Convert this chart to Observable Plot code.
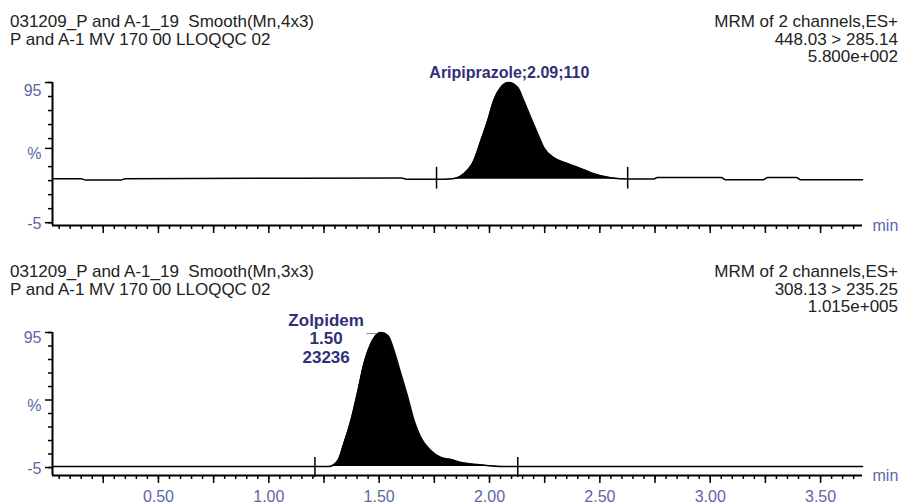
<!DOCTYPE html>
<html><head><meta charset="utf-8">
<script src="https://cdn.jsdelivr.net/npm/d3@7"></script>
<script src="https://cdn.jsdelivr.net/npm/@observablehq/plot@0.6"></script>
<style>
body{margin:0;background:#fff;}
#wrap{position:relative;width:905px;height:504px;font-family:"Liberation Sans",Arial,sans-serif;overflow:hidden;}
#wrap svg{display:block;}
.hdr{position:absolute;font-size:17px;color:#222;line-height:17.5px;white-space:pre;}
.hdr.r{text-align:right;}
</style></head><body><div id="wrap"></div>
<script>
// ---------- data ----------
const xDomain = [0.02, 3.69];
const xLabelTicks = [0.5, 1.0, 1.5, 2.0, 2.5, 3.0, 3.5];
const yTickLabels = ["95", "%", "-5"];
const topYTickValues = [95, 48, -5];
const botYTickValues = [95, 45, -5];

const topHeaderLeft = ["031209_P and A-1_19  Smooth(Mn,4x3)", "P and A-1 MV 170 00 LLOQQC 02"];
const topHeaderRight = ["MRM of 2 channels,ES+", "448.03 > 285.14", "5.800e+002"];
const botHeaderLeft = ["031209_P and A-1_19  Smooth(Mn,3x3)", "P and A-1 MV 170 00 LLOQQC 02"];
const botHeaderRight = ["MRM of 2 channels,ES+", "308.13 > 235.25", "1.015e+005"];

// Aripiprazole trace (time in min, % intensity)
const topTime = [0.02, 0.15, 0.17, 0.33, 0.35, 1.60, 1.63, 1.76, 1.832, 1.884, 1.929, 1.961, 1.992, 2.019, 2.051, 2.087, 2.128, 2.155, 2.187, 2.218, 2.246, 2.291, 2.355, 2.414, 2.472, 2.549, 2.626, 2.745, 2.76, 3.05, 3.07, 3.24, 3.26, 3.39, 3.41, 3.69];
const topPct  = [26.4, 26.4, 25.4, 25.4, 26.4, 26.8, 26.0, 26.0, 26.4, 30.0, 39.3, 53.6, 67.9, 82.1, 91.4, 95.0, 91.4, 82.1, 70.0, 58.6, 48.6, 41.4, 37.1, 33.6, 30.0, 27.1, 26.2, 26.2, 27.2, 27.2, 25.6, 25.6, 27.2, 27.2, 25.6, 25.6];
const topLimits = [1.76, 2.626];
const topBase = 26.0;
const topPeak = {name: "Aripiprazole", rt: 2.09, area: 110};

// Zolpidem trace
const botTime = [0.02, 1.209, 1.272, 1.313, 1.340, 1.372, 1.404, 1.431, 1.463, 1.495, 1.508, 1.540, 1.567, 1.598, 1.630, 1.658, 1.689, 1.734, 1.780, 1.825, 1.871, 1.947, 2.065, 2.128, 3.69];
const botPct  = [-4.3, -4.3, -4.3, 0.2, 12.8, 29.8, 52.0, 72.0, 86.9, 94.3, 95.0, 92.8, 81.7, 64.6, 46.9, 29.8, 17.2, 7.6, 2.4, 0.9, -1.3, -2.8, -4.3, -4.3, -4.3];
const botLimits = [1.209, 2.128];
const botBase = -4.3;
const botPeak = {name: "Zolpidem", rt: 1.50, area: 23236};

// ---------- drawing ----------
const axisColor = "#5d66a6";
const labelColor = "#30307a";
const font = "'Liberation Sans', Arial, sans-serif";
const minorX = d3.range(1, 74).map(i => +(i * 0.05).toFixed(2));
const quarterX = d3.range(1, 15).map(i => i * 0.25);

function panel(cfg) {
  const data = cfg.time.map((t, i) => ({t, v: cfg.pct[i]}));
  const fill = data.filter(d => d.t >= cfg.limits[0] && d.t <= cfg.limits[1]);
  const peakV = d3.max(data, d => d.v);
  const minorY = d3.range(-5, 96, 10).filter(v => Math.abs(v - cfg.yTicks[1]) > 6);
  const yLab = cfg.yTicks.map((v, i) => ({v, label: yTickLabels[i]}));
  const yDy = cfg.yDy;
  const marks = [
    Plot.areaY(fill, {x: "t", y1: cfg.base, y2: "v", fill: "black", curve: "monotone-x"}),
    Plot.lineY(data, {x: "t", y: "v", stroke: "black", strokeWidth: 1.5, curve: "monotone-x"}),
    Plot.ruleX(cfg.limits, {y1: cfg.base - cfg.mLo, y2: cfg.base + cfg.mHi, stroke: "black", strokeWidth: 1.5}),
    Plot.ruleX([xDomain[0]], {stroke: "black", strokeWidth: 2}),
    Plot.ruleY([cfg.yDomain[0]], {stroke: "black", strokeWidth: 2}),
    Plot.axisY({ticks: minorY, tickSize: 4, tickFormat: () => "", label: null, strokeWidth: 1.5}),
    Plot.axisY({ticks: cfg.yTicks, tickSize: 7, tickFormat: () => "", label: null, strokeWidth: 1.5}),
    ...yLab.map((d, i) => Plot.text([d], {y: "v", text: "label", frameAnchor: "left", textAnchor: "end", dx: -11, dy: yDy[i], fill: axisColor, fontSize: 16})),
    Plot.axisX({ticks: minorX, tickSize: 4, tickFormat: () => "", label: null, strokeWidth: 1.5}),
    Plot.axisX({ticks: quarterX, tickSize: 8, tickFormat: () => "", label: null, strokeWidth: 1.5}),
    Plot.text(["min"], {x: xDomain[1], y: cfg.yDomain[0], text: d => d, dx: 10, textAnchor: "start", fill: axisColor, fontSize: 16})
  ];
  if (cfg.showX) marks.push(Plot.axisX({ticks: xLabelTicks, tickSize: 0, tickPadding: 15, tickFormat: d => d.toFixed(2), label: null, fontSize: 16, color: axisColor, fill: axisColor}));
  marks.push(...cfg.labels(peakV));
  return Plot.plot({
    width: 905, height: 252,
    marginLeft: 52, marginRight: 43, marginTop: cfg.mt, marginBottom: cfg.mb,
    x: {domain: xDomain}, y: {domain: cfg.yDomain},
    style: {fontFamily: font, background: "white", overflow: "visible"},
    marks
  });
}

const wrap = document.getElementById("wrap");
wrap.appendChild(panel({
  time: topTime, pct: topPct, limits: topLimits, base: topBase, mLo: 7, mHi: 8.5,
  yDomain: [-7, 95], mt: 82, mb: 27, showX: false, yTicks: topYTickValues, yDy: [8, 5, 1],
  labels: peakV => [Plot.text([topPeak], {x: "rt", y: () => peakV, text: d => `${d.name};${d.rt.toFixed(2)};${d.area}`, lineAnchor: "bottom", dy: -5, fill: labelColor, fontWeight: "bold", fontSize: 16})]
}));
wrap.appendChild(panel({
  time: botTime, pct: botPct, limits: botLimits, base: botBase, mLo: 8, mHi: 6.7,
  yDomain: [-10.9, 95], mt: 80, mb: 29, showX: true, yTicks: botYTickValues, yDy: [5, 6, 1],
  labels: peakV => [
    Plot.text([botPeak], {x: "rt", y: () => peakV, text: d => `${d.name}\n${d.rt.toFixed(2)}\n${d.area}`, lineAnchor: "top", dx: -53, dy: -20, lineHeight: 1.1, fill: labelColor, fontWeight: "bold", fontSize: 17}),
    Plot.text(["_"], {x: () => botPeak.rt, y: () => peakV, text: d => d, dx: -8, dy: -6, fill: labelColor, fontWeight: "bold", fontSize: 17})
  ]
}));

function header(lines, cls, top, pos) {
  const d = document.createElement("div");
  d.className = "hdr " + cls;
  d.textContent = lines.join("\n");
  d.style.top = top + "px";
  Object.assign(d.style, pos);
  wrap.appendChild(d);
}
header(topHeaderLeft, "", 13, {left: "10px"});
header(topHeaderRight, "r", 13, {right: "7px"});
header(botHeaderLeft, "", 263, {left: "10px"});
header(botHeaderRight, "r", 263, {right: "7px"});
</script></body></html>
